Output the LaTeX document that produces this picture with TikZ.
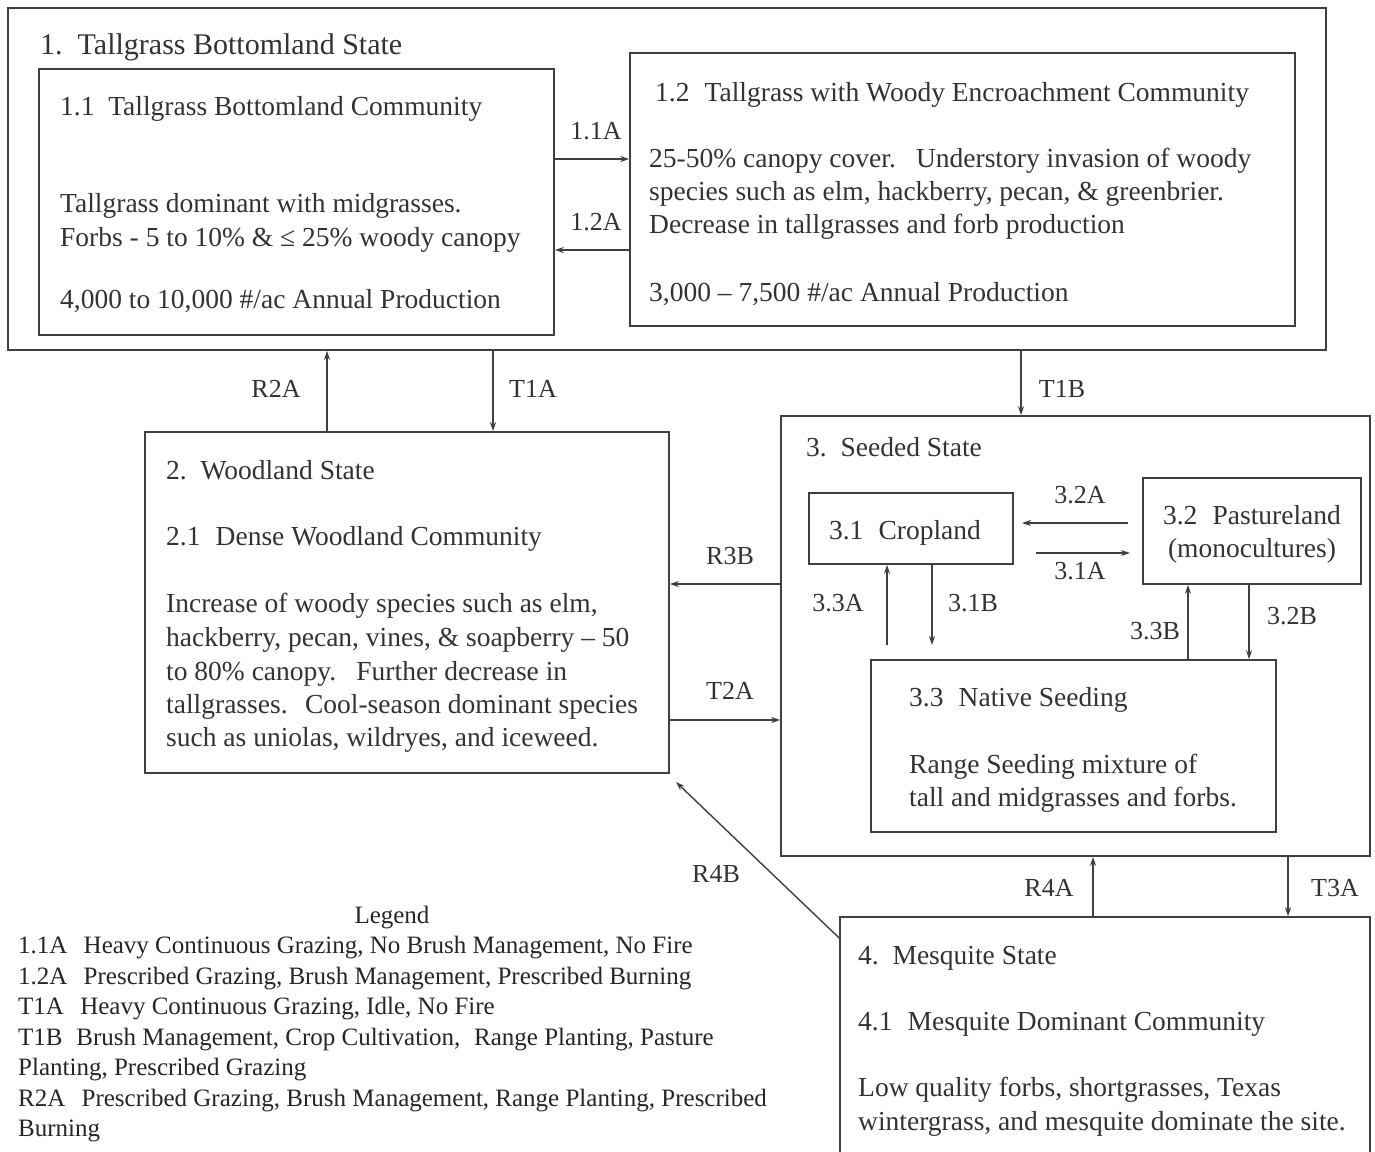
\documentclass[tikz,border=0pt]{standalone}
\usepackage{fontspec}
\setmainfont{Liberation Serif}
\usetikzlibrary{arrows.meta,fit}
\begin{document}
\begin{tikzpicture}[x=1pt,y=-1pt,
  box/.style={draw=black!75, line width=1.6pt, inner sep=0pt},
  txt/.style={anchor=base west, inner sep=0pt, text=black!80, font=\fontsize{27.5}{33}\selectfont},
  ctxt/.style={anchor=base, inner sep=0pt, text=black!80, font=\fontsize{27.5}{33}\selectfont},
  lbl/.style={anchor=base, inner sep=0pt, text=black!80, font=\fontsize{26}{33}\selectfont},
  leg/.style={anchor=base west, inner sep=0pt, text=black!85, font=\fontsize{25}{30}\selectfont},
  arr/.style={-{Stealth[length=9pt,width=6pt]}, draw=black!75, line width=1.4pt}]
\useasboundingbox (0,0) rectangle (1375,1151);
\fill[white] (0,0) rectangle (1375,1151);

% ---------- State 1 ----------
\node[box, fit={(8,8)(1326,350)}] (s1) {};
\node[txt, font=\fontsize{30}{33}\selectfont] (s1t) at (40,54) {1.\hspace{0.5em}Tallgrass Bottomland State};
\node[box, fit={(39,69)(554,335)}] (b11) {};
\node[txt] (b11t) at (60,115) {1.1\hspace{0.25em} Tallgrass Bottomland Community};
\node[txt] (b11a) at (60,212) {Tallgrass dominant with midgrasses.};
\node[txt] (b11b) at (60,246) {Forbs - 5 to 10\% \& ≤ 25\% woody canopy};
\node[txt] (b11c) at (60,308) {4,000 to 10,000 \#/ac Annual Production};

\node[box, fit={(630,53)(1295,326)}] (b12) {};
\node[txt] (b12t) at (655,101) {1.2\hspace{0.3em} Tallgrass with Woody Encroachment Community};
\node[txt] (b12a) at (649,167) {25-50\% canopy cover.\hspace{0.4em} Understory invasion of woody};
\node[txt] (b12b) at (649,200) {species such as elm, hackberry, pecan, \& greenbrier.};
\node[txt] (b12c) at (649,233) {Decrease in tallgrasses and forb production};
\node[txt] (b12d) at (649,301) {3,000 – 7,500 \#/ac Annual Production};

\draw[arr] (b11.east |- 0,159) -- (b12.west |- 0,159);
\node[lbl] (l11a) at (596,139) {1.1A};
\draw[arr] (b12.west |- 0,250) -- (b11.east |- 0,250);
\node[lbl] (l12a) at (596,230) {1.2A};

% ---------- State 2 ----------
\node[box, fit={(145,432)(669,773)}] (s2) {};
\node[txt] (s2t) at (166,479) {2.\hspace{0.5em}Woodland State};
\node[txt] (s2c) at (166,545) {2.1\hspace{0.3em} Dense Woodland Community};
\node[txt] (s2a) at (166,612) {Increase of woody species such as elm,};
\node[txt] (s2b) at (166,646) {hackberry, pecan, vines, \& soapberry – 50};
\node[txt] (s2d) at (166,680) {to 80\% canopy.\hspace{0.4em} Further decrease in};
\node[txt] (s2e) at (166,713) {tallgrasses.\hspace{0.3em} Cool-season dominant species};
\node[txt] (s2f) at (166,746) {such as uniolas, wildryes, and iceweed.};

\draw[arr] (s2.north -| 327,0) -- (s1.south -| 327,0);
\node[lbl] (lr2a) at (276,397) {R2A};
\draw[arr] (s1.south -| 493,0) -- (s2.north -| 493,0);
\node[lbl] (lt1a) at (533,397) {T1A};

% ---------- State 3 ----------
\node[box, fit={(781,416)(1370,856)}] (s3) {};
\node[txt] (s3t) at (806,456) {3.\hspace{0.5em}Seeded State};
\node[box, fit={(809,493)(1013,564)}] (b31) {};
\node[ctxt] (b31t) at (905,539) {3.1\hspace{0.3em} Cropland};
\node[box, fit={(1143,478)(1361,584)}] (b32) {};
\node[ctxt] (b32t) at (1252,524) {3.2\hspace{0.3em} Pastureland};
\node[ctxt] (b32u) at (1252,557) {(monocultures)};
\node[box, fit={(871,660)(1276,832)}] (b33) {};
\node[txt] (b33t) at (909,706) {3.3\hspace{0.3em} Native Seeding};
\node[txt] (b33a) at (909,773) {Range Seeding mixture of};
\node[txt] (b33b) at (909,806) {tall and midgrasses and forbs.};

\draw[arr] (s1.south -| 1021,0) -- (s3.north -| 1021,0);
\node[lbl] (lt1b) at (1062,397) {T1B};

\coordinate (c32as) at (1128,523);
\coordinate (c32ae) at (1022,523);
\draw[arr] (c32as) -- (c32ae);
\node[lbl] (l32a) at (1080,503) {3.2A};
\coordinate (c31as) at (1036,553);
\coordinate (c31ae) at (1130,553);
\draw[arr] (c31as) -- (c31ae);
\node[lbl] (l31a) at (1080,579) {3.1A};

\coordinate (c33as) at (887,645);
\draw[arr] (c33as) -- (b31.south -| c33as) ;
\node[lbl] (l33a) at (838,611) {3.3A};
\coordinate (c31be) at (932,645);
\draw[arr] (b31.south -| c31be) -- (c31be);
\node[lbl] (l31b) at (973,611) {3.1B};
\draw[arr] (b33.north -| 1188,0) -- (b32.south -| 1188,0);
\node[lbl] (l33b) at (1155,639) {3.3B};
\draw[arr] (b32.south -| 1249,0) -- (b33.north -| 1249,0);
\node[lbl] (l32b) at (1292,624) {3.2B};

\draw[arr] (s3.west |- 0,584) -- (s2.east |- 0,584);
\node[lbl] (lr3b) at (730,564) {R3B};
\draw[arr] (s2.east |- 0,720) -- (s3.west |- 0,720);
\node[lbl] (lt2a) at (730,699) {T2A};

% ---------- State 4 ----------
\node[box, fit={(840,917)(1370,1175)}] (s4) {};
\node[txt] (s4t) at (858,964) {4.\hspace{0.5em}Mesquite State};
\node[txt] (s4c) at (858,1030) {4.1\hspace{0.3em} Mesquite Dominant Community};
\node[txt] (s4a) at (858,1096) {Low quality forbs, shortgrasses, Texas};
\node[txt] (s4b) at (858,1130) {wintergrass, and mesquite dominate the site.};

\draw[arr] (s4.north -| 1093,0) -- (s3.south -| 1093,0);
\node[lbl] (lr4a) at (1049,896) {R4A};
\draw[arr] (s3.south -| 1288,0) -- (s4.north -| 1288,0);
\node[lbl] (lt3a) at (1335,896) {T3A};

\coordinate (r4bend) at (676,782);
\draw[arr] (s4.west |- 0,938) -- (r4bend);
\node[lbl] (lr4b) at (716,882) {R4B};

% ---------- Legend ----------
\node[anchor=base, inner sep=0pt, text=black!85, font=\fontsize{25}{30}\selectfont] (legt) at (392,923) {Legend};
\node[leg] (lg1) at (18,953) {1.1A\hspace{0.4em} Heavy Continuous Grazing, No Brush Management, No Fire};
\node[leg] (lg2) at (18,984) {1.2A\hspace{0.4em} Prescribed Grazing, Brush Management, Prescribed Burning};
\node[leg] (lg3) at (18,1014) {T1A\hspace{0.4em} Heavy Continuous Grazing, Idle, No Fire};
\node[leg] (lg4) at (18,1045) {T1B\hspace{0.3em} Brush Management, Crop Cultivation,\hspace{0.3em} Range Planting, Pasture};
\node[leg] (lg5) at (18,1075) {Planting, Prescribed Grazing};
\node[leg] (lg6) at (18,1106) {R2A\hspace{0.4em} Prescribed Grazing, Brush Management, Range Planting, Prescribed};
\node[leg] (lg7) at (18,1136) {Burning};
\end{tikzpicture}
\end{document}
